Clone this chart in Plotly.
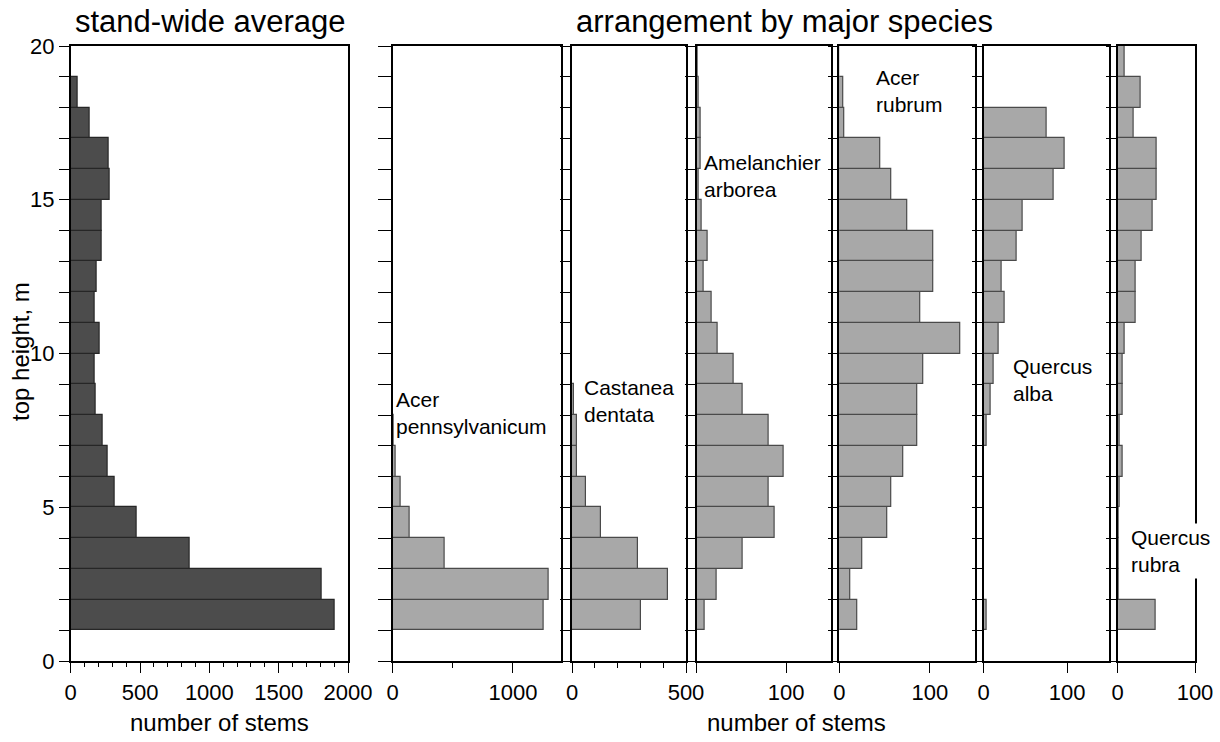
import plotly.graph_objects as go

# ---------------- data ----------------
bin_bottoms = list(range(1, 20))  # height classes 1-2 m ... 19-20 m
heights = [b + 0.5 for b in bin_bottoms]

stand_avg = [1906, 1813, 861, 479, 319, 266, 228, 182, 175, 206, 173, 184, 225, 223, 283, 276, 139, 50, 0]

acer_pensylvanicum = [1254, 1296, 436, 142, 67, 28, 10, 0, 0, 0, 0, 0, 0, 0, 0, 0, 0, 0, 0]
castanea_dentata = [303, 421, 291, 129, 63, 22, 20, 8, 0, 0, 0, 0, 0, 0, 0, 0, 0, 0, 0]
amelanchier_arborea = [9, 22, 51, 87, 80, 97, 80, 51, 41, 23, 17, 8, 12, 6, 2, 4, 5, 2, 1]
acer_rubrum = [20, 12, 25, 53, 58, 71, 86, 86, 93, 134, 90, 104, 104, 75, 57, 45, 5, 4, 0]
quercus_alba = [4, 0, 0, 0, 0, 0, 3, 8, 12, 18, 25, 21, 40, 47, 84, 97, 75, 0, 0]
quercus_rubra = [49, 1, 1, 1, 2, 6, 2, 7, 7, 9, 23, 23, 31, 45, 51, 51, 21, 30, 9]

species_names = ["Acer<br>pennsylvanicum", "Castanea<br>dentata", "Amelanchier<br>arborea",
                 "Acer<br>rubrum", "Quercus<br>alba", "Quercus<br>rubra"]
species_values = [acer_pensylvanicum, castanea_dentata, amelanchier_arborea,
                  acer_rubrum, quercus_alba, quercus_rubra]
species_ranges = [1400, 500, 150, 150, 150, 100]
species_major = [[0, 1000], [0, 500], [0, 100], [0, 100], [0, 100], [0, 100]]
species_major_text = [["0", "1000"], ["0", "500"], ["", "100"], ["0", "100"], ["0", "100"], ["0", "100"]]
species_minor = [500, 100, None, None, None, None]
# label anchor positions (data coords: stems, height)
label_pos = [(5, 8.05), (40, 8.46), (5, 15.77), (37, 18.55), (32, 9.15), (13, 3.59)]

title_left = "stand-wide average"
title_right = "arrangement by major species"
xlab = "number of stems"
ylab = "top height, m"

# ---------------- layout geometry ----------------
W, H = 1220, 742
FONT = "Liberation Sans, Arial, Helvetica, sans-serif"
y_dom = [1 - 661 / H, 1 - 46 / H]
left_dom = [70.7 / W, 348 / W]
sp_px = [(392.7, 561), (572, 686), (696.7, 831), (839.3, 975), (983.7, 1109), (1117.7, 1195)]
sp_doms = [[a / W, b / W] for a, b in sp_px]

fig = go.Figure()

tickfont = dict(family=FONT, size=22, color="black")
LIGHT, LIGHT_LINE = "#a8a8a8", "#4a4a4a"
DARK, DARK_LINE = "#4c4c4c", "#262626"

# stand-wide panel
fig.add_trace(go.Bar(x=stand_avg, y=heights, width=1, orientation="h",
                     marker=dict(color=DARK, line=dict(color=DARK_LINE, width=1.2)),
                     xaxis="x", yaxis="y", showlegend=False))

layout = dict(
    width=W, height=H, margin=dict(l=0, r=0, t=0, b=0, autoexpand=False),
    paper_bgcolor="white", plot_bgcolor="white", bargap=0, showlegend=False,
    font=dict(family=FONT, color="black"),
)
layout["xaxis"] = dict(domain=left_dom, range=[0, 2000], anchor="y", automargin=False,
                       tickmode="linear", tick0=0, dtick=500,
                       ticks="outside", ticklen=10, tickwidth=1.3, tickcolor="black",
                       minor=dict(ticks="outside", ticklen=4, dtick=100, tick0=0, tickcolor="black", tickwidth=1),
                       showline=True, linecolor="black", linewidth=1.6, mirror=True,
                       showgrid=False, zeroline=False, tickfont=tickfont, ticklabelstandoff=1)
layout["yaxis"] = dict(domain=y_dom, range=[0, 20], anchor="x", automargin=False,
                       tickmode="array", tickvals=list(range(0, 21)),
                       ticktext=[str(v) if v % 5 == 0 else "" for v in range(0, 21)],
                       ticks="outside", ticklen=10, tickwidth=1.3, tickcolor="black",
                       showline=True, linecolor="black", linewidth=1.6, mirror=True,
                       showgrid=False, zeroline=False, tickfont=tickfont)

for i, vals in enumerate(species_values):
    n = i + 2
    xa, ya = f"x{n}", f"y{n}"
    fig.add_trace(go.Bar(x=vals, y=heights, width=1, orientation="h",
                         marker=dict(color=LIGHT, line=dict(color=LIGHT_LINE, width=1.2)),
                         xaxis=xa, yaxis=ya, showlegend=False))
    xd = dict(domain=sp_doms[i], range=[0, species_ranges[i]], anchor=ya, automargin=False,
              tickmode="array", tickvals=species_major[i], ticktext=species_major_text[i],
              ticks="outside", ticklen=10, tickwidth=1.3, tickcolor="black",
              showline=True, linecolor="black", linewidth=1.6, mirror=True,
              showgrid=False, zeroline=False, tickfont=tickfont, ticklabelstandoff=1)
    if species_minor[i]:
        xd["minor"] = dict(ticks="outside", ticklen=5, dtick=species_minor[i], tick0=0,
                           tickcolor="black", tickwidth=1)
    layout[f"xaxis{n}"] = xd
    layout[f"yaxis{n}"] = dict(domain=y_dom, range=[0, 20], anchor=xa, automargin=False,
                               tickmode="array", tickvals=list(range(0, 21)),
                               showticklabels=False,
                               ticks="outside", ticklen=13 if i == 0 else 10,
                               tickwidth=1.2, tickcolor="black",
                               showline=True, linecolor="black", linewidth=1.6, mirror=True,
                               showgrid=False, zeroline=False)

annotations = []
for i, name in enumerate(species_names):
    n = i + 2
    lx, ly = label_pos[i]
    annotations.append(dict(x=lx, y=ly, xref=f"x{n}", yref=f"y{n}", text=name,
                            showarrow=False, xanchor="left", yanchor="middle", align="left",
                            font=dict(family=FONT, size=21, color="black"),
                            bgcolor="white" if i == 5 else None, borderpad=2))

annotations += [
    dict(x=211 / W, y=1 - 22 / H, xref="paper", yref="paper", text=title_left, showarrow=False,
         xanchor="center", yanchor="middle", font=dict(family=FONT, size=31, color="black")),
    dict(x=784 / W, y=1 - 22 / H, xref="paper", yref="paper", text=title_right, showarrow=False,
         xanchor="center", yanchor="middle", font=dict(family=FONT, size=31, color="black")),
    dict(x=219 / W, y=1 - 722 / H, xref="paper", yref="paper", text=xlab, showarrow=False,
         xanchor="center", yanchor="middle", font=dict(family=FONT, size=24, color="black")),
    dict(x=796 / W, y=1 - 722 / H, xref="paper", yref="paper", text=xlab, showarrow=False,
         xanchor="center", yanchor="middle", font=dict(family=FONT, size=24, color="black")),
    dict(x=20 / W, y=1 - 352 / H, xref="paper", yref="paper", text=ylab, showarrow=False,
         textangle=-90, xanchor="center", yanchor="middle", font=dict(family=FONT, size=24, color="black")),
]
layout["annotations"] = annotations

fig.update_layout(**layout)
fig.write_html("out.html")
